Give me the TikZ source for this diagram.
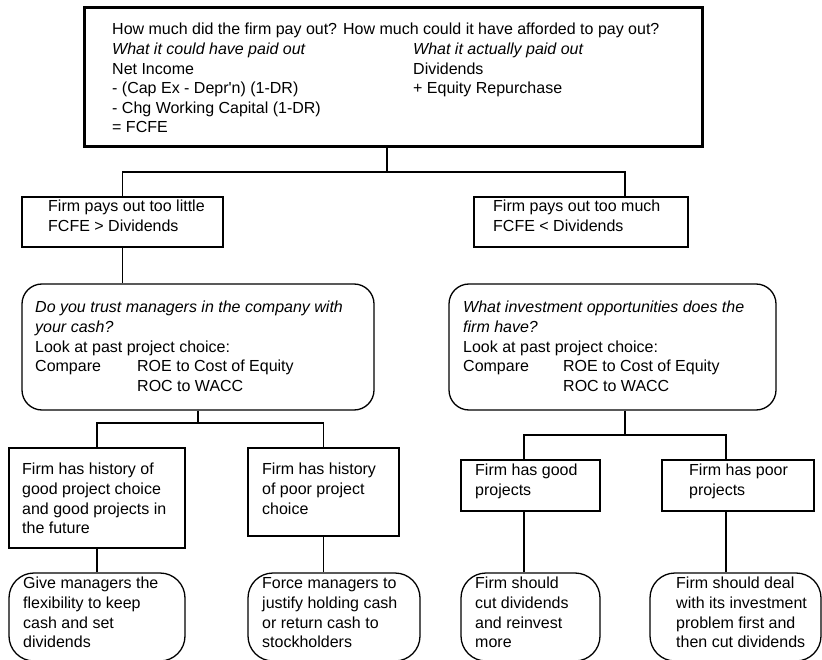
\documentclass[tikz,border=0pt]{standalone}
\usepackage{fontspec}
\setmainfont{Liberation Sans}
\newcommand\fsz{\fontsize{16}{19.6}\selectfont}
\begin{document}
\begin{tikzpicture}[x=1pt,y=-1pt,
  box/.style={draw, line width=1.3pt, inner sep=0pt, rectangle},
  rbox/.style={box, rounded corners=#1},
  txt/.style={anchor=north west, inner sep=0pt, align=left, font=\fsz},
  conn/.style={draw, line width=1.3pt}]
\useasboundingbox (0,0) rectangle (822,660);
\clip (0,0) rectangle (822,660);
\fill[white] (0,0) rectangle (822,660);
% top box
\node[box, line width=3pt, minimum width=618pt, minimum height=139pt] (top) at (393,77.5) {};
\node[txt] (topL) at (112,21) {\strut How much did the firm pay out? How much could it have afforded to pay out?\\
 {\itshape What it could have paid out}\\
 Net Income\\
 - (Cap Ex - Depr\textquotesingle n) (1-DR)\\
 - Chg Working Capital (1-DR)\\
 = FCFE};
\node[txt] (topR) at (413,40.6) {\strut{\itshape What it actually paid out}\\
 Dividends\\
 + Equity Repurchase};
% level 1
\node[box, minimum width=201pt, minimum height=50pt] (L1) at (122.5,222) {};
\node[txt] (L1t) at (48,198) {\strut Firm pays out too little\\ FCFE > Dividends};
\node[box, minimum width=214pt, minimum height=50pt] (R1) at (581,222) {};
\node[txt] (R1t) at (493,198) {\strut Firm pays out too much\\ FCFE < Dividends};
% level 2
\node[rbox=20pt, minimum width=352pt, minimum height=126pt] (L2) at (198,347) {};
\node[txt] (L2t) at (35,299) {\strut{\itshape Do you trust managers in the company with}\\
 {\itshape your cash?}\\
 Look at past project choice:\\
 \makebox[102pt][l]{Compare}ROE to Cost of Equity\\
 \hspace*{102pt}ROC to WACC};
\node[rbox=20pt, minimum width=327pt, minimum height=126pt] (R2) at (612.5,347) {};
\node[txt] (R2t) at (463,299) {\strut{\itshape What investment opportunities does the}\\
 {\itshape firm have?}\\
 Look at past project choice:\\
 \makebox[100pt][l]{Compare}ROE to Cost of Equity\\
 \hspace*{100pt}ROC to WACC};
% level 3
\node[box, minimum width=176pt, minimum height=100pt] (L3a) at (97,498) {};
\node[txt] (L3at) at (22,461) {\strut Firm has history of\\ good project choice\\ and good projects in\\ the future};
\node[box, minimum width=151pt, minimum height=88pt] (L3b) at (323.5,492) {};
\node[txt] (L3bt) at (262,461) {\strut Firm has history\\ of poor project\\ choice};
\node[box, minimum width=139pt, minimum height=51pt] (R3a) at (530.5,485.5) {};
\node[txt] (R3at) at (475,462) {\strut Firm has good\\ projects};
\node[box, minimum width=152pt, minimum height=51pt] (R3b) at (738,485.5) {};
\node[txt] (R3bt) at (689,462) {\strut Firm has poor\\ projects};
% level 4
\node[rbox=25pt, minimum width=176pt, minimum height=88pt] (L4a) at (97,617) {};
\node[txt] (L4at) at (23,575) {\strut Give managers the\\ flexibility to keep\\ cash and set\\ dividends};
\node[rbox=25pt, minimum width=172pt, minimum height=88pt] (L4b) at (334,617) {};
\node[txt] (L4bt) at (262,575) {\strut Force managers to\\ justify holding cash\\ or return cash to\\ stockholders};
\node[rbox=25pt, minimum width=139pt, minimum height=88pt] (R4a) at (530.5,617) {};
\node[txt] (R4at) at (475,575) {\strut Firm should\\ cut dividends\\ and reinvest\\ more};
\node[rbox=25pt, minimum width=171pt, minimum height=88pt] (R4b) at (735.5,617) {};
\node[txt] (R4bt) at (676,575) {\strut Firm should deal\\ with its investment\\ problem first and\\ then cut dividends};
% connectors
\coordinate (jt) at (387,172);
\coordinate (jtr) at (625,172);
\draw[conn] (top.south -| jt) -- (jt);
\draw[conn] (L1.north) |- (jtr) -- (R1.north -| jtr);
\draw[conn] (L1.south) -- (L2.north -| L1.south);
\coordinate (jl) at (198,423);
\draw[conn] (L2.south) -- (jl);
\draw[conn] (L3a.north) |- (jl) -| (L3b.north);
\draw[conn] (L3a.south) -- (L4a.north);
\draw[conn] (L3b.south) -- (L4b.north -| L3b.south);
\coordinate (jr) at (625,435);
\coordinate (jra) at (524,435);
\coordinate (jrb) at (726,435);
\draw[conn] (R2.south -| jr) -- (jr);
\draw[conn] (R3a.north -| jra) -- (jra) -- (jrb) -- (R3b.north -| jrb);
\draw[conn] (R3a.south -| jra) -- (R4a.north -| jra);
\draw[conn] (R3b.south -| jrb) -- (R4b.north -| jrb);
\end{tikzpicture}
\end{document}
